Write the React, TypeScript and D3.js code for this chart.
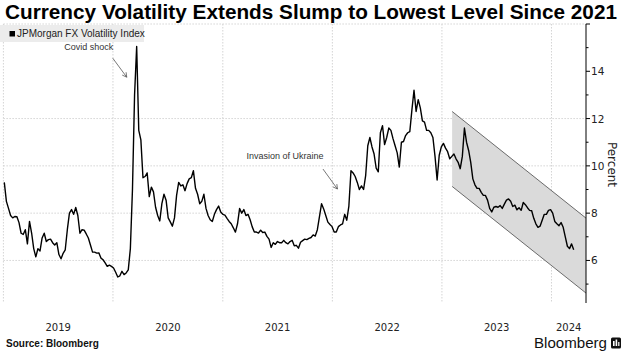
import React from 'react';
import * as d3 from 'd3';

// Weekly JPMorgan FX Volatility Index readings, starting 2019-01-04
const values: number[] = [
  // 2019
  9.3, 8.5, 8.2, 7.9, 7.8, 7.86, 7.85, 7.6, 7.15, 7.1, 7.3, 6.7, 7.65, 7.16, 6.5, 6.15,
  6.5, 6.4, 6.95, 7.15, 6.8, 6.88, 6.9, 6.75, 6.65, 6.75, 6.25, 6.07, 6.3, 6.45, 7.3, 8.0,
  8.15, 7.95, 8.24, 7.9, 7.15, 7.3, 7.28, 7.12, 6.95, 6.65, 6.35, 6.35, 6.31, 6.32, 6.1, 6.03,
  5.9, 5.75, 5.8, 5.75,
  // 2020
  5.68, 5.5, 5.3, 5.35, 5.54, 5.4, 5.47, 5.6, 6.5, 9.0, 13.0, 15.05, 11.5, 11.1, 9.5, 9.55,
  9.7, 8.7, 9.1, 8.9, 8.25, 7.9, 7.67, 8.4, 8.8, 8.55, 7.8, 7.63, 7.45, 7.8, 8.75, 9.3,
  9.15, 9.2, 8.95, 9.25, 9.45, 9.5, 9.8, 9.05, 8.8, 8.4, 8.5, 8.8, 8.2, 7.9, 7.72, 7.65,
  7.95, 8.15, 8.3, 8.05,
  // 2021
  7.95, 7.92, 7.78, 7.65, 7.55, 7.38, 7.2, 7.55, 8.2, 8.0, 8.15, 7.9, 7.95, 7.72, 7.42, 7.2,
  7.2, 7.16, 7.28, 7.18, 7.2, 7.02, 6.9, 6.55, 6.75, 6.68, 6.8, 6.75, 6.75, 6.85, 6.75, 6.7,
  6.8, 6.85, 6.62, 6.64, 6.52, 6.77, 6.84, 6.9, 6.88, 6.93, 6.97, 7.08, 7.03, 7.3, 7.85, 8.4,
  8.18, 7.9, 7.62, 7.52,
  // 2022
  7.43, 7.2, 7.2, 7.43, 7.5, 7.55, 7.95, 7.7, 8.3, 9.8, 9.7, 9.55, 9.3, 9.0, 9.15, 9.0,
  9.6, 10.85, 11.2, 10.8, 10.5, 9.9, 9.75, 11.4, 11.7, 10.9, 11.2, 11.6, 11.5, 11.15, 10.85, 10.55,
  9.95, 11.0, 11.03, 11.28, 11.4, 11.45, 12.37, 13.2, 12.3, 12.8, 12.45, 11.9, 11.85, 11.5, 11.5, 11.4,
  11.2, 10.4, 9.4, 10.45,
  // 2023
  10.8, 10.95, 10.75, 10.6, 10.3, 10.4, 10.5, 10.3, 10.15, 9.88, 10.4, 11.6, 11.0, 10.65, 10.15, 9.45,
  9.2, 9.05, 9.05, 8.88, 8.75, 8.75, 8.55, 8.2, 8.05, 8.25, 8.28, 8.25, 8.32, 8.2, 8.38, 8.55,
  8.6, 8.5, 8.28, 8.34, 8.14, 8.23, 8.12, 8.45, 8.36, 8.23, 8.12, 8.1, 7.78, 7.55, 7.4, 7.45,
  7.7, 7.95, 7.95, 8.12,
  // 2024
  8.15, 8.0, 7.65, 7.55, 7.47, 7.6, 7.4, 7.0, 6.6, 6.5, 6.7, 6.45,
];
const seriesStart = Date.UTC(2019, 0, 4);

const domainStart = '2019-01-01';
const domainEnd = '2024-04-25';
const yearLabels = ['2019', '2020', '2021', '2022', '2023', '2024'];
const yMajorTicks = [6, 8, 10, 12, 14];
const yMinorTicks = [5, 7, 9, 11, 13, 15];
const yGridValues = [6, 8, 10, 12, 16];
const yDomain = [4.2, 16];

// Downward trend channel
const channelDates = ['2023-02-04', '2024-04-25'];
const channelUpper = [12.3, 7.79];
const channelLower = [9.13, 4.62];

const annotations = [
  { label: 'Covid shock', date: '2020-02-16', value: 13.75, dx: -14, dy: -19, tx: -38, ty: -27.5 },
  { label: 'Invasion of Ukraine', date: '2022-01-18', value: 9.02, dx: -14.5, dy: -20, tx: -52.5, ty: -30 },
];

const title = 'Currency Volatility Extends Slump to Lowest Level Since 2021';
const legendLabel = 'JPMorgan FX Volatility Index';
const sourceText = 'Source: Bloomberg';

const W = 624;
const H = 355;
const left = 3.4;
const right = 586;
const top = 24;
const bottom = 303;

const utc = (s: string) => new Date(s + 'T00:00:00Z');

export default function App() {
  const x = d3.scaleUtc().domain([utc(domainStart), utc(domainEnd)]).range([left, right]);
  const y = d3.scaleLinear().domain(yDomain).range([bottom, top]);

  const data = values.map((v, i) => ({ d: new Date(seriesStart + i * 7 * 86400000), v }));
  const line = d3
    .line<{ d: Date; v: number }>()
    .x((p) => x(p.d))
    .y((p) => y(p.v));

  const c0 = utc(channelDates[0]);
  const c1 = utc(channelDates[1]);
  const band =
    `M${x(c0)},${y(channelUpper[0])}L${x(c1)},${y(channelUpper[1])}` +
    `L${x(c1)},${y(channelLower[1])}L${x(c0)},${y(channelLower[0])}Z`;

  const yearStarts = yearLabels.map((yr) => utc(`${yr}-01-01`));
  const endDate = utc(domainEnd);

  const font = "'Liberation Sans', Arial, sans-serif";
  const font2 = "'DejaVu Sans', Verdana, sans-serif";
  const gridColor = '#d4d4d4';

  return (
    <svg width={W} height={H} style={{ position: 'absolute', left: 0, top: 0, background: '#fff' }}>
      <text x={5} y={19} fontFamily={font} fontWeight={700} fontSize={20} textLength={612} lengthAdjust="spacingAndGlyphs" fill="#000">
        {title}
      </text>

      {/* gridlines */}
      {yGridValues.map((v) => (
        <line key={'gy' + v} x1={left} x2={right} y1={y(v)} y2={y(v)} stroke={gridColor} strokeWidth={1} strokeDasharray="1.5,1.5" />
      ))}
      {yearStarts.map((d, i) => (
        <line key={'gx' + i} x1={x(d)} x2={x(d)} y1={top} y2={bottom} stroke={gridColor} strokeWidth={1} strokeDasharray="1.5,1.5" />
      ))}

      {/* channel */}
      <path d={band} fill="#dadada" stroke="none" />
      <line x1={x(c0)} y1={y(channelUpper[0])} x2={x(c1)} y2={y(channelUpper[1])} stroke="#4a4a4a" strokeWidth={0.8} />
      <line x1={x(c0)} y1={y(channelLower[0])} x2={x(c1)} y2={y(channelLower[1])} stroke="#4a4a4a" strokeWidth={0.8} />

      {/* series */}
      <path d={line(data) || ''} fill="none" stroke="#000" strokeWidth={1.4} strokeLinejoin="round" />

      {/* legend */}
      <rect x={0} y={25} width={144} height={17} fill="#ececec" />
      <rect x={9.5} y={31} width={5.5} height={5.5} fill="#000" />
      <text x={17} y={37} fontFamily={font} fontSize={10} fill="#222">
        {legendLabel}
      </text>

      {/* annotations */}
      {annotations.map((a) => {
        const px = x(utc(a.date));
        const py = y(a.value);
        const sx = px + a.dx;
        const sy = py + a.dy;
        const ang = Math.atan2(py - sy, px - sx);
        const hl = 5;
        const h1 = [px - hl * Math.cos(ang - 0.5), py - hl * Math.sin(ang - 0.5)];
        const h2 = [px - hl * Math.cos(ang + 0.5), py - hl * Math.sin(ang + 0.5)];
        return (
          <g key={a.label}>
            <text x={px + a.tx} y={py + a.ty} textAnchor="middle" fontFamily={font} fontSize={9} fill="#333">
              {a.label}
            </text>
            <line x1={sx} y1={sy} x2={px} y2={py} stroke="#555" strokeWidth={0.8} />
            <polyline points={`${h1[0]},${h1[1]} ${px},${py} ${h2[0]},${h2[1]}`} fill="none" stroke="#555" strokeWidth={0.8} />
          </g>
        );
      })}

      {/* y axis */}
      <line x1={right} x2={right} y1={top} y2={bottom} stroke="#000" strokeWidth={1} />
      <line x1={right} x2={right + 4} y1={top} y2={top} stroke="#000" strokeWidth={1} />
      {yMajorTicks.map((v) => (
        <g key={'yt' + v}>
          <line x1={right} x2={right + 4} y1={y(v)} y2={y(v)} stroke="#000" strokeWidth={1} />
          <text x={right + 5} y={y(v) + 4} fontFamily={font2} fontSize={10.5} fill="#222">
            {v}
          </text>
        </g>
      ))}
      {yMinorTicks.map((v) => (
        <line key={'ym' + v} x1={right} x2={right + 2.5} y1={y(v)} y2={y(v)} stroke="#000" strokeWidth={1} />
      ))}
      <text
        transform={`translate(${608},${(top + bottom) / 2 + 1}) rotate(90)`}
        textAnchor="middle"
        fontFamily={font2}
        fontSize={12}
        fill="#222"
      >
        Percent
      </text>

      {/* x labels */}
      {yearLabels.map((yr, i) => {
        const s = yearStarts[i];
        const e = i + 1 < yearStarts.length ? yearStarts[i + 1] : endDate;
        const cx = (x(s) + x(e)) / 2;
        return (
          <text key={yr} x={cx} y={331} textAnchor="middle" fontFamily={font2} fontSize={10} fill="#222">
            {yr}
          </text>
        );
      })}

      {/* footer */}
      <text x={6} y={347} fontFamily={font} fontWeight={700} fontSize={10} fill="#111">
        {sourceText}
      </text>
      <text x={534} y={348} fontFamily={font} fontSize={14} textLength={73} lengthAdjust="spacingAndGlyphs" fill="#111">
        Bloomberg
      </text>
      <rect x={611} y={337.5} width={10} height={11} rx={1.5} fill="#111" />
      <rect x={613} y={341} width={1.6} height={5} fill="#fff" />
      <rect x={615.6} y={339.5} width={1.6} height={6.5} fill="#fff" />
      <rect x={618.2} y={342} width={1.2} height={4} fill="#fff" />
    </svg>
  );
}
